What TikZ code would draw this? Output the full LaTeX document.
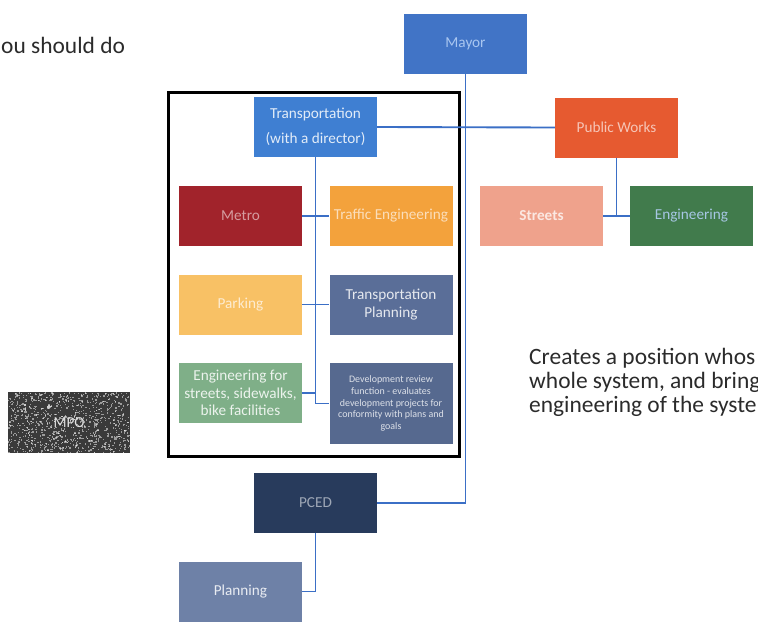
\documentclass[tikz,border=0pt]{standalone}
\usepackage{fontspec}
\setmainfont{Carlito}
\definecolor{linkblue}{HTML}{3B6FC6}
\definecolor{mayorblue}{HTML}{4174C6}
\definecolor{mayortext}{HTML}{A9C6F0}
\definecolor{transblue}{HTML}{3F7FD2}
\definecolor{pworange}{HTML}{E65A30}
\definecolor{metrored}{HTML}{A1232B}
\definecolor{trafficorange}{HTML}{F3A23C}
\definecolor{parkingorange}{HTML}{F8C165}
\definecolor{tplanslate}{HTML}{5A6E98}
\definecolor{engreen}{HTML}{7FAF88}
\definecolor{devslate}{HTML}{56698F}
\definecolor{streetsalmon}{HTML}{EFA28C}
\definecolor{engdarkgreen}{HTML}{417B4C}
\definecolor{engrtext}{HTML}{A7C7E4}
\definecolor{pcednavy}{HTML}{283B5C}
\definecolor{planslate}{HTML}{6E81A7}
\definecolor{mpogray}{HTML}{3A3A3A}
\definecolor{bodytext}{HTML}{2B2B2B}
\begin{document}
\begin{tikzpicture}[x=0.03cm,y=-0.03cm,
        box/.style={minimum width=3.69cm,minimum height=1.8cm,inner sep=1pt,
            align=center,font=\fontsize{13}{15}\selectfont},
        link/.style={draw=linkblue,line width=1.6pt}]
        \clip (0,0) rectangle (758,635);
        \fill[white] (0,0) rectangle (758,635);
        %% texts
        \node[anchor=base west,inner sep=0,text=bodytext,font=\fontsize{20}{20.5}\selectfont]
            (heading) at (1,53) {ou should do};
        \node[anchor=north west,inner sep=0,align=left,text=bodytext,font=\fontsize{20}{20.4}\selectfont]
            (note) at (529,348) {Creates a position whos\\whole system, and bring\\engineering of the syste};
        %% top level
        \node[box,fill=mayorblue,text=mayortext] (mayor) at (465.5,44) {Mayor};
        \node[box,fill=transblue,text=white!85!transblue,font=\fontsize{13}{21}\selectfont]
            (trans) at (315.5,127) {Transportation\\(with a director)};
        \node[box,fill=pworange,text=white!65!pworange] (pw) at (616.5,127.5) {Public Works};
        %% transportation department
        \node[box,fill=metrored,text=white!55!metrored] (metro) at (240.5,216) {Metro};
        \node[box,fill=trafficorange,text=white!65!trafficorange] (traffic) at (391,216) {Traffic Engineering};
        \node[box,fill=parkingorange,text=white!70!parkingorange] (parking) at (240.5,304.5) {Parking};
        \node[box,fill=tplanslate,text=white!85!tplanslate] (tplan) at (391,304.5) {Transportation\\Planning};
        \node[box,fill=engreen,text=white!85!engreen] (streng) at (240.5,393) {Engineering for\\streets, sidewalks,\\bike facilities};
        \node[box,fill=devslate,text=white!80!devslate,minimum height=2.43cm,
            font=\fontsize{8.5}{10}\selectfont] (dev) at (391,403.5)
            {Development review\\function - evaluates\\development projects for\\conformity with plans and\\goals};
        %% public works
        \node[box,fill=streetsalmon,text=white!75!streetsalmon] (streets) at (541.5,216) {\textbf{Streets}};
        \node[box,fill=engdarkgreen,text=engrtext] (engr) at (691.5,216) {Engineering};
        %% bottom
        \node[box,fill=pcednavy,text=white!55!pcednavy] (pced) at (315.5,503) {PCED};
        \node[box,fill=planslate,text=white!85!planslate] (planning) at (240.5,591.5) {Planning};
        %% MPO
        \fill[mpogray] (8,392) rectangle (130,453);
        \pgfmathsetseed{7}
        \foreach \i in {1,...,900}
            \fill[white,opacity=0.5] ({8+rnd*121},{392+rnd*60}) rectangle ++(1.3,1.3);
        \node[text=white!85!mpogray,font=\fontsize{13}{15}\selectfont] (mpo) at (69,422.5) {MPO};
        %% frame
        \draw[line width=0.09cm] (168,92) rectangle (459,456);
        %% links
        \draw[link] (mayor.south) |- (pced.east);
        \draw[link] (trans.east) -- (pw.west);
        \draw[link] (trans.south) |- (dev.west);
        \draw[link] (metro.east) -- (traffic.west);
        \draw[link] (parking.east) -- (tplan.west);
        \draw[link] (streng.east) -- (streng.east -| trans.south);
        \draw[link] (pw.south) -- (pw.south |- streets.east);
        \draw[link] (streets.east) -- (engr.west);
        \draw[link] (pced.south) |- (planning.east);
    \end{tikzpicture}
\end{document}
